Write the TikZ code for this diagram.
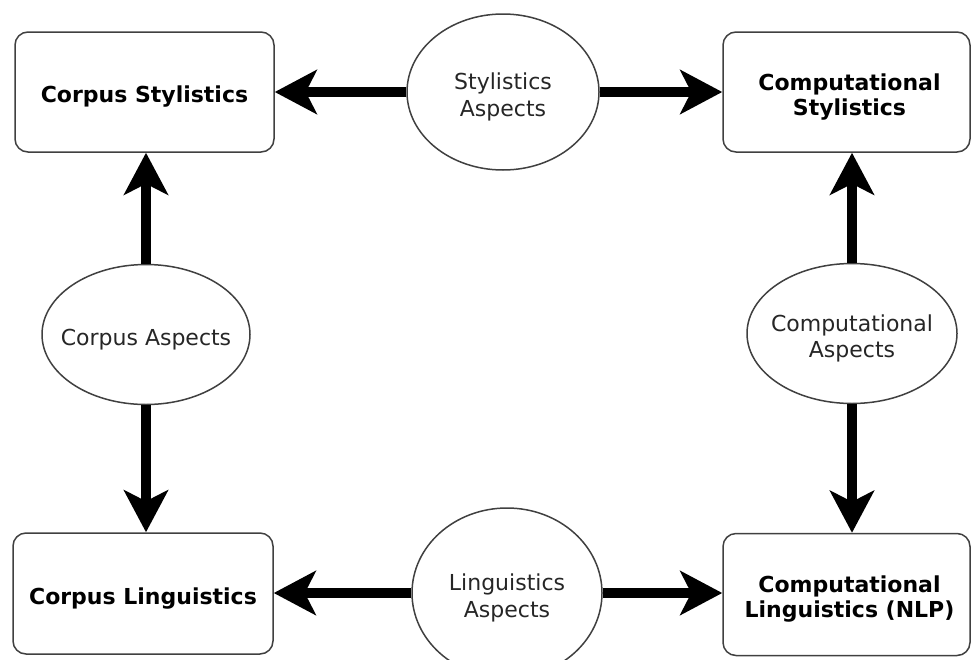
\documentclass[tikz,border=0pt]{standalone}
\usepackage{fontspec}
\setmainfont{DejaVu Sans}
\usetikzlibrary{arrows.meta,shapes.geometric}
\tikzset{
  box/.style={draw=black!75, line width=1.5pt, rounded corners=13pt, fill=white,
    inner sep=0pt},
  boxtext/.style={inner sep=0pt, yshift=-5pt, align=center,
    font=\fontsize{22}{25}\selectfont\bfseries},
  aspect/.style={ellipse, draw=black!75, line width=1.5pt, fill=white, inner sep=0pt},
  aspecttext/.style={inner sep=0pt, yshift=-5pt, align=center, text=black!85,
    font=\fontsize{22}{26.5}\selectfont},
  bigarrow/.style={line width=10pt, -{Stealth[length=42pt, width=44pt, inset=11pt]}},
}
\begin{document}
\begin{tikzpicture}[x=1pt, y=-1pt]
\useasboundingbox (0,0) rectangle (971,659);
% boxes
\node[box, minimum width=259pt, minimum height=120pt,
  label={[boxtext]center:Corpus Stylistics}] (cs) at (144.5,92) {};
\node[box, minimum width=247pt, minimum height=120pt,
  label={[boxtext, xshift=3pt]center:Computational\\Stylistics}] (cps) at (846.5,92) {};
\node[box, minimum width=260pt, minimum height=121pt,
  label={[boxtext]center:Corpus Linguistics}] (cl) at (143,593.5) {};
\node[box, minimum width=247pt, minimum height=122pt,
  label={[boxtext, xshift=3pt]center:Computational\\Linguistics (NLP)}] (cpl) at (846.5,594.5) {};
% aspects
\node[aspect, minimum width=192pt, minimum height=156pt,
  label={[aspecttext]center:Stylistics\\Aspects}] (sa) at (503,92) {};
\node[aspect, minimum width=190pt, minimum height=170pt,
  label={[aspecttext]center:Linguistics\\Aspects}] (la) at (507,593) {};
\node[aspect, minimum width=208pt, minimum height=140pt,
  label={[aspecttext]center:Corpus Aspects}] (ca) at (146,334.5) {};
\node[aspect, minimum width=210pt, minimum height=140pt,
  label={[aspecttext]center:Computational\\Aspects}] (cpa) at (852,333.5) {};
% arrows
\draw[bigarrow] (sa.west) -- (cs.east |- sa.west);
\draw[bigarrow] (sa.east) -- (cps.west |- sa.east);
\draw[bigarrow] (la.west) -- (cl.east |- la.west);
\draw[bigarrow] (la.east) -- (cpl.west |- la.east);
\draw[bigarrow] (ca.north) -- (ca.north |- cs.south);
\draw[bigarrow] (ca.south) -- (ca.south |- cl.north);
\draw[bigarrow] (cpa.north) -- (cpa.north |- cps.south);
\draw[bigarrow] (cpa.south) -- (cpa.south |- cpl.north);
\end{tikzpicture}
\end{document}
